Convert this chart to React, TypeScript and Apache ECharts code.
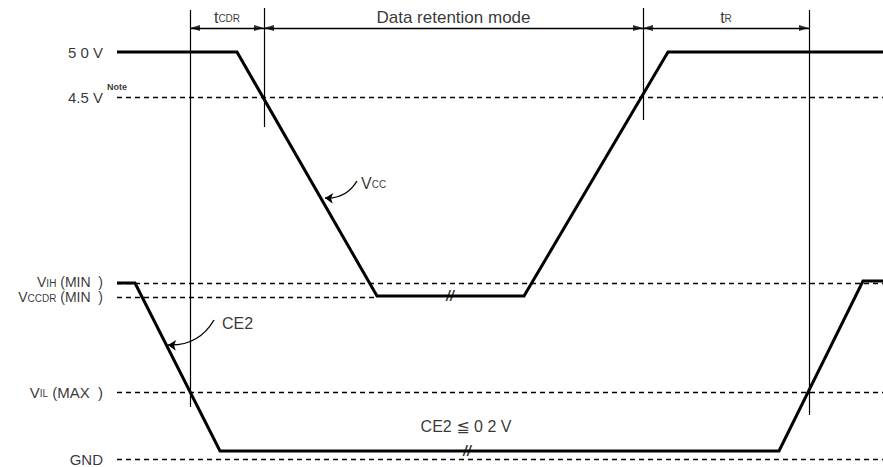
import React, { useEffect, useRef } from "react";
import * as echarts from "echarts";

const FONT = '"Liberation Sans", Arial, "DejaVu Sans", sans-serif';

// Voltage levels (diagram units, top = 0)
const levelLabels = ["5 0 V", "4.5 V", "V{s|IH} (MIN  )", "V{s|CCDR} (MIN  )", "V{s|IL} (MAX  )", "GND"];
const levelY = [52, 97, 283, 297, 392, 459];
const dashedLevelEnd = [null, 883, 883, 377, 883, 883];
const levelLineStart = 117;
const levelLabelX = 103;

// Waveforms (time, level)
const vccTime = [117, 237, 377, 524, 668, 883];
const vccLevel = [52, 52, 296, 296, 52, 52];
const ce2Time = [117, 135, 220, 779, 863, 883];
const ce2Level = [283, 283, 451, 451, 281, 281];

// Timing markers
const markerTime = [190, 264, 643, 809];
const markerTop = [10, 8, 8, 10];
const markerBottom = [407, 127, 120, 415];

// Timing intervals
const intervalLabels = ["t{s|CDR}", "Data retention mode", "t{s|R}"];
const intervalFrom = [190, 264, 643];
const intervalTo = [264, 643, 809];
const intervalArrowY = 28;
const intervalLabelY = 17;

// Annotations
const noteText = "Note";
const notePos = [107, 87];
const signalLabels = ["V{s|CC}", "CE2"];
const signalLabelPos = [[361, 183], [222, 323]];
const leaderFrom = [[357, 181], [214, 320]];
const leaderTo = [[325, 198], [168, 345]];
const breakTime = [450, 467];
const breakLevel = [296, 451];
const conditionText = "CE2 \u2266 0 2 V";
const conditionPos = [466, 426];

function richFor(size: number) {
  return {
    s: { fontSize: size, fontFamily: FONT, color: "#000", verticalAlign: "bottom" as const, lineHeight: 13 },
  };
}

function textItem(x: number, y: number, t: string, position: string, extra: any = {}) {
  return {
    value: [x, y],
    label: {
      show: true,
      position,
      distance: 0,
      formatter: () => t,
      fontFamily: FONT,
      fontSize: 16,
      lineHeight: 13,
      color: "#000",
      rich: richFor(10),
      ...extra,
    },
  };
}

export default function App() {
  const ref = useRef<HTMLDivElement>(null);
  useEffect(() => {
    const chart = echarts.init(ref.current!, null, { renderer: "svg" });

    const texts: any[] = [];
    levelLabels.forEach((l, i) => {
      const tight = i === 2 || i === 3;
      texts.push(
        textItem(
          levelLabelX,
          levelY[i],
          l,
          "left",
          tight
            ? { fontSize: 14, lineHeight: 12, rich: richFor(10), offset: [0, i === 2 ? -1 : 0] }
            : { fontSize: 15, rich: richFor(10) }
        )
      );
    });
    texts.push(textItem(notePos[0], notePos[1], noteText, "right", { fontSize: 9, lineHeight: 10, fontWeight: "bold" }));
    intervalLabels.forEach((l, i) =>
      texts.push(
        textItem((intervalFrom[i] + intervalTo[i]) / 2, intervalLabelY, l, "inside", i === 1 ? { fontSize: 17 } : {})
      )
    );
    signalLabels.forEach((l, i) => texts.push(textItem(signalLabelPos[i][0], signalLabelPos[i][1], l, "right")));
    breakTime.forEach((t, i) =>
      texts.push(
        textItem(t, breakLevel[i], "//", "inside", { fontSize: 14, lineHeight: 14, fontWeight: "bold", fontStyle: "italic" })
      )
    );
    texts.push(textItem(conditionPos[0], conditionPos[1], conditionText, "inside"));

    const arrowLen = 10;
    const arrowHeads: any[] = [];
    intervalFrom.forEach((f, i) => {
      arrowHeads.push({ value: [f + arrowLen / 2, intervalArrowY], symbolRotate: 90 });
      arrowHeads.push({ value: [intervalTo[i] - arrowLen / 2, intervalArrowY], symbolRotate: -90 });
    });

    const dashed: any[] = [];
    levelY.forEach((y, i) => {
      const e = dashedLevelEnd[i];
      if (e != null) dashed.push({ coords: [[levelLineStart, y], [e, y]] });
    });

    const option: any = {
      animation: false,
      backgroundColor: "#fff",
      grid: { left: 0, right: 0, top: 0, bottom: 0 },
      xAxis: { type: "value", min: 0, max: 883, show: false },
      yAxis: { type: "value", min: 0, max: 467, inverse: true, show: false },
      series: [
        {
          type: "lines",
          coordinateSystem: "cartesian2d",
          silent: true,
          lineStyle: { color: "#000", width: 1.3, type: [5, 4], opacity: 1 },
          data: dashed,
        },
        {
          type: "lines",
          coordinateSystem: "cartesian2d",
          silent: true,
          lineStyle: { color: "#000", width: 1.2, opacity: 1 },
          data: markerTime.map((t, i) => ({ coords: [[t, markerTop[i]], [t, markerBottom[i]]] })),
        },
        {
          type: "lines",
          coordinateSystem: "cartesian2d",
          silent: true,
          lineStyle: { color: "#000", width: 1.3, opacity: 1 },
          data: intervalFrom.map((f, i) => ({ coords: [[f, intervalArrowY], [intervalTo[i], intervalArrowY]] })),
        },
        {
          type: "scatter",
          silent: true,
          symbol: "triangle",
          symbolSize: [6, arrowLen],
          itemStyle: { color: "#000" },
          data: arrowHeads,
        },
        {
          type: "lines",
          coordinateSystem: "cartesian2d",
          silent: true,
          symbol: ["none", "arrow"],
          symbolSize: 8,
          lineStyle: { color: "#000", width: 1.4, curveness: 0.3, opacity: 1 },
          data: leaderFrom.map((f, i) => ({ coords: [f, leaderTo[i]] })),
        },
        {
          type: "line",
          silent: true,
          symbol: "none",
          lineStyle: { color: "#000", width: 3, join: "miter" },
          data: vccTime.map((t, i) => [t, vccLevel[i]]),
        },
        {
          type: "line",
          silent: true,
          symbol: "none",
          lineStyle: { color: "#000", width: 3, join: "miter" },
          data: ce2Time.map((t, i) => [t, ce2Level[i]]),
        },
        {
          type: "scatter",
          silent: true,
          symbolSize: 0,
          itemStyle: { color: "transparent" },
          data: texts,
        },
      ],
    };
    chart.setOption(option);
    return () => chart.dispose();
  }, []);
  return (
    <div
      ref={ref}
      style={{ position: "fixed", left: 0, top: 0, width: 883, height: 467, background: "#fff" }}
    />
  );
}
